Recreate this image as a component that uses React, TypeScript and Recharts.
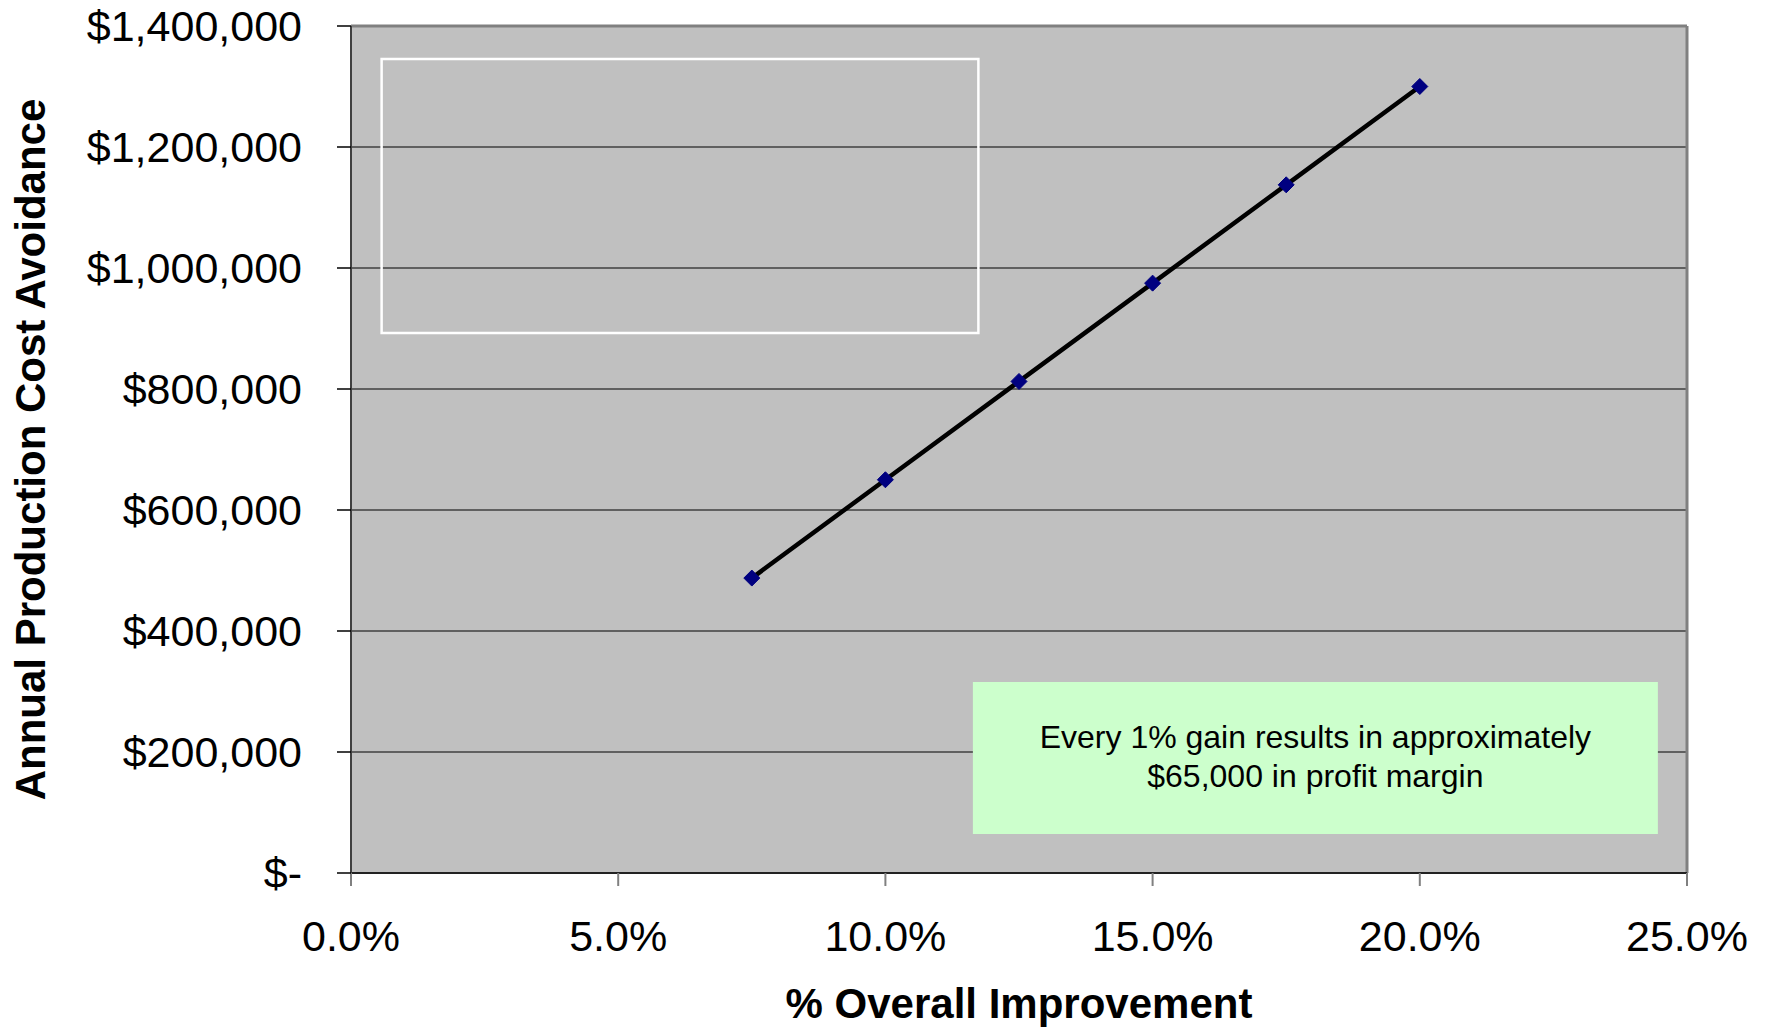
import React from 'react';
import {
  ComposedChart,
  Line,
  XAxis,
  YAxis,
  CartesianGrid,
  ReferenceArea,
  ReferenceLine,
  Label,
} from 'recharts';

const improvement = [0.075, 0.1, 0.125, 0.15, 0.175, 0.2];
const costAvoidance = [487500, 650000, 812500, 975000, 1137500, 1300000];
const xTicks = [0, 0.05, 0.1, 0.15, 0.2, 0.25];
const yTicks = [0, 200000, 400000, 600000, 800000, 1000000, 1200000, 1400000];
const xTitle = '% Overall Improvement';
const yTitle = 'Annual Production Cost Avoidance';
const noteLines = ['Every 1% gain results in approximately', '$65,000 in profit margin'];

const data = improvement.map((x, i) => ({ x, y: costAvoidance[i] }));

const FONT = '"Liberation Sans", Arial, Helvetica, sans-serif';

const fmtY = (v: number) => (v === 0 ? '$-' : '$' + v.toLocaleString('en-US'));
const fmtX = (v: number) => (v * 100).toFixed(1) + '%';

const Diamond = (props: any) => {
  const { cx, cy } = props;
  if (cx == null || cy == null) return null;
  const r = 8;
  return (
    <polygon
      points={`${cx - r},${cy} ${cx},${cy - r} ${cx + r},${cy} ${cx},${cy + r}`}
      fill="#000080"
      stroke="#000080"
      strokeWidth={1}
    />
  );
};

const NoteText = (props: any) => {
  const vb = props.viewBox || {};
  const cx = vb.x + vb.width / 2;
  const top = vb.y;
  return (
    <g>
      <text
        x={cx}
        y={top + 66}
        textAnchor="middle"
        fontFamily={FONT}
        fontSize={32}
        fill="#000"
      >
        {noteLines[0]}
      </text>
      <text
        x={cx}
        y={top + 105}
        textAnchor="middle"
        fontFamily={FONT}
        fontSize={32}
        fill="#000"
      >
        {noteLines[1]}
      </text>
    </g>
  );
};

const XTitle = (props: any) => {
  const vb = props.viewBox || {};
  return (
    <text
      x={vb.x + vb.width / 2}
      y={vb.y + 145}
      textAnchor="middle"
      fontFamily={FONT}
      fontWeight="bold"
      fontSize={42}
      fill="#000"
    >
      {xTitle}
    </text>
  );
};

const YTitle = (props: any) => {
  const vb = props.viewBox || {};
  const cx = vb.x + 30;
  const cy = vb.y + vb.height / 2;
  return (
    <text
      x={cx}
      y={cy}
      transform={`rotate(-90, ${cx}, ${cy})`}
      textAnchor="middle"
      dominantBaseline="central"
      fontFamily={FONT}
      fontWeight="bold"
      fontSize={42}
      fill="#000"
    >
      {yTitle}
    </text>
  );
};

export default function App() {
  return (
    <div style={{ position: 'absolute', left: 0, top: 0, background: '#fff' }}>
      <ComposedChart
        width={1769}
        height={1029}
        data={data}
        margin={{ top: 26, right: 82, bottom: 0, left: 0 }}
      >
        <CartesianGrid
          vertical={false}
          horizontal={true}
          stroke="#000"
          strokeWidth={1}
          fill="#C0C0C0"
          fillOpacity={1}
        />
        <XAxis
          type="number"
          dataKey="x"
          domain={[0, 0.25]}
          ticks={xTicks}
          tickFormatter={fmtX}
          height={156}
          tickSize={13}
          tickMargin={34}
          tick={{ fill: '#000', fontSize: 43, fontFamily: FONT }}
          tickLine={{ stroke: '#808080', strokeWidth: 2 }}
          axisLine={{ stroke: '#222', strokeWidth: 2 }}
          interval={0}
        >
          <Label content={<XTitle />} />
        </XAxis>
        <YAxis
          type="number"
          domain={[0, 1400000]}
          ticks={yTicks}
          tickFormatter={fmtY}
          width={351}
          tickSize={14}
          tickMargin={35}
          tick={{ fill: '#000', fontSize: 43, fontFamily: FONT }}
          tickLine={{ stroke: '#000', strokeWidth: 1.5 }}
          axisLine={{ stroke: '#404040', strokeWidth: 2 }}
          interval={0}
        >
          <Label content={<YTitle />} />
        </YAxis>
        <ReferenceLine y={1400000} stroke="#808080" strokeWidth={3} ifOverflow="visible" />
        <ReferenceLine x={0.25} stroke="#808080" strokeWidth={3} ifOverflow="visible" />
        <ReferenceArea
          x1={0.00573}
          x2={0.1174}
          y1={892500}
          y2={1345500}
          fill="none"
          fillOpacity={0}
          stroke="#ffffff"
          strokeWidth={2.5}
          ifOverflow="visible"
        />
        <ReferenceArea
          x1={0.11637}
          x2={0.24455}
          y1={64500}
          y2={315700}
          fill="#CCFFCC"
          fillOpacity={1}
          stroke="none"
          ifOverflow="visible"
          label={<NoteText />}
        />
        <Line
          dataKey="y"
          stroke="none"
          dot={<Diamond />}
          activeDot={false}
          isAnimationActive={false}
          legendType="none"
        />
        <Line
          dataKey="y"
          stroke="#000"
          strokeWidth={4.5}
          dot={false}
          activeDot={false}
          isAnimationActive={false}
          legendType="none"
        />
      </ComposedChart>
    </div>
  );
}
